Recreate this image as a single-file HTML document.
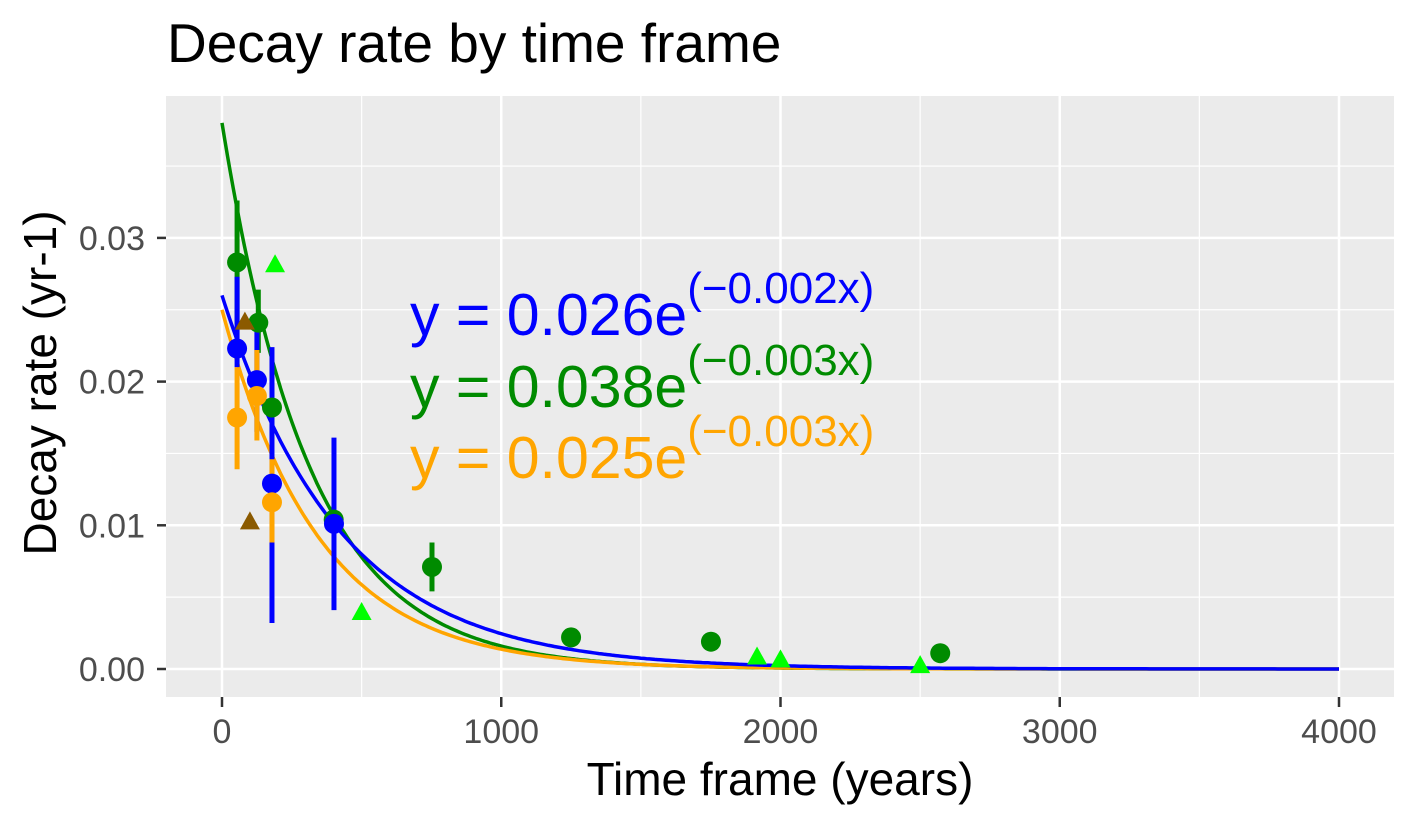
<!DOCTYPE html>
<html><head><meta charset="utf-8"><style>
html,body{margin:0;padding:0;background:#fff;}
svg{display:block;font-family:"Liberation Sans",Arial,sans-serif;}
</style></head><body>
<svg id="chart" width="1417" height="826" viewBox="0 0 1417 826" xmlns="http://www.w3.org/2000/svg">
<text x="167" y="62" font-size="55" fill="#000">Decay rate by time frame</text>
<rect x="166" y="96" width="1228" height="601" fill="#ebebeb"/>
<g id="grid"></g>
<g id="axes"></g>
<g id="curves"></g>
<g id="marks"></g>
<g>
<text x="410" y="335" font-size="59" fill="#0000ff">y = 0.026e<tspan font-size="44" dy="-32">(−0.002x)</tspan></text>
<text x="410" y="407" font-size="59" fill="#008b00">y = 0.038e<tspan font-size="44" dy="-32">(−0.003x)</tspan></text>
<text x="410" y="478" font-size="59" fill="#ffa500">y = 0.025e<tspan font-size="44" dy="-32">(−0.003x)</tspan></text>
</g>
<text x="780" y="795" font-size="46" text-anchor="middle" fill="#000">Time frame (years)</text>
<text transform="translate(56,383) rotate(-90)" font-size="46" text-anchor="middle" fill="#000">Decay rate (yr-1)</text>
</svg>
<script>
const xTicks=[0,1000,2000,3000,4000];
const xMinor=[500,1500,2500,3500];
const yTicks=[0,0.01,0.02,0.03];
const yTickLabels=["0.00","0.01","0.02","0.03"];
const yMinor=[0.005,0.015,0.025,0.035];
// green series (circles with error bars)
const greenX=[54,130,179,400,752,1250,1751,2572];
const greenY=[0.0283,0.0241,0.0182,0.0104,0.0071,0.0022,0.0019,0.0011];
const greenLo=[0.0240,0.0220,0.0160,0.0095,0.0054,0.0022,0.0019,0.0011];
const greenHi=[0.0326,0.0264,0.0200,0.0113,0.0088,0.0022,0.0019,0.0011];
// blue series
const blueX=[54,125,179,401];
const blueY=[0.0223,0.0201,0.0129,0.0101];
const blueLo=[0.0210,0.0165,0.0032,0.0041];
const blueHi=[0.0273,0.0236,0.0224,0.0161];
// orange series
const orangeX=[54,125,179];
const orangeY=[0.0175,0.0190,0.0116];
const orangeLo=[0.0139,0.0159,0.0088];
const orangeHi=[0.0210,0.0222,0.0146];
// triangles
const brownX=[82,100];
const brownY=[0.0241,0.0102];
const limeX=[190,500,1916,2000,2500];
const limeY=[0.0281,0.0039,0.0008,0.0006,0.0002];
const fitA=[0.038,0.025,0.026];
const fitB=[-0.00317,-0.0029,-0.00236];
const fitColors=["#008b00","#ffa500","#0000ff"];

const NS="http://www.w3.org/2000/svg";
const X=v=>222+v*(1339-222)/4000;
const Y=v=>669-v*14370;
function mk(tag,parent,attrs){const e=document.createElementNS(NS,tag);for(const k in attrs)e.setAttribute(k,attrs[k]);document.getElementById(parent).appendChild(e);return e;}

xMinor.forEach(v=>{const e=mk('line','grid',{x1:X(v),x2:X(v),y1:96,y2:697,stroke:'#fff','stroke-width':1.2});

});
yMinor.forEach(v=>{const e=mk('line','grid',{x1:166,x2:1394,y1:Y(v),y2:Y(v),stroke:'#fff','stroke-width':1.2});

});
xTicks.forEach(v=>{const e=mk('line','grid',{x1:X(v),x2:X(v),y1:96,y2:697,stroke:'#fff','stroke-width':2.5});


const t=mk('line','axes',{x1:X(v),x2:X(v),y1:697,y2:707,stroke:'#333','stroke-width':2.5});


const l=mk('text','axes',{x:X(v),y:743,'font-size':34,'text-anchor':'middle',fill:'#4d4d4d'});l.textContent=String(v);

});
yTicks.forEach((v,i)=>{const e=mk('line','grid',{x1:166,x2:1394,y1:Y(v),y2:Y(v),stroke:'#fff','stroke-width':2.5});


const t=mk('line','axes',{x1:157,x2:166,y1:Y(v),y2:Y(v),stroke:'#333','stroke-width':2.5});


const l=mk('text','axes',{x:145,y:Y(v)+12,'font-size':34,'text-anchor':'end',fill:'#4d4d4d'});l.textContent=yTickLabels[i];

});

function errs(xs,lo,hi,col,name){xs.forEach((x,i)=>{if(hi[i]-lo[i]<=0)return;const e=mk('line','marks',{x1:X(x),x2:X(x),y1:Y(lo[i]),y2:Y(hi[i]),stroke:col,'stroke-width':5});

});}
function dots(xs,ys,col,name){xs.forEach((x,i)=>{const e=mk('circle','marks',{cx:X(x),cy:Y(ys[i]),r:10,fill:col});

});}
function tris(xs,ys,col,name){xs.forEach((x,i)=>{const cx=X(x),cy=Y(ys[i]);const e=mk('polygon','marks',{points:`${cx},${cy-11} ${cx-10},${cy+7} ${cx+10},${cy+7}`,fill:col});

});}

errs(greenX,greenLo,greenHi,'#008b00','green');
errs(blueX,blueLo,blueHi,'#0000ff','blue');
errs(orangeX,orangeLo,orangeHi,'#ffa500','orange');
dots(greenX,greenY,'#008b00','green');
dots(blueX,blueY,'#0000ff','blue');
dots(orangeX,orangeY,'#ffa500','orange');
tris(brownX,brownY,'#8b5a00','brown');
tris(limeX,limeY,'#00ff00','lime');

fitA.forEach((a,k)=>{let d='';for(let x=0;x<=4000;x+=10){d+=(x?'L':'M')+X(x).toFixed(1)+','+Y(a*Math.exp(fitB[k]*x)).toFixed(1);}
const p=mk('path','curves',{d:d,fill:'none',stroke:fitColors[k],'stroke-width':3.5});

});
</script>
</body></html>
